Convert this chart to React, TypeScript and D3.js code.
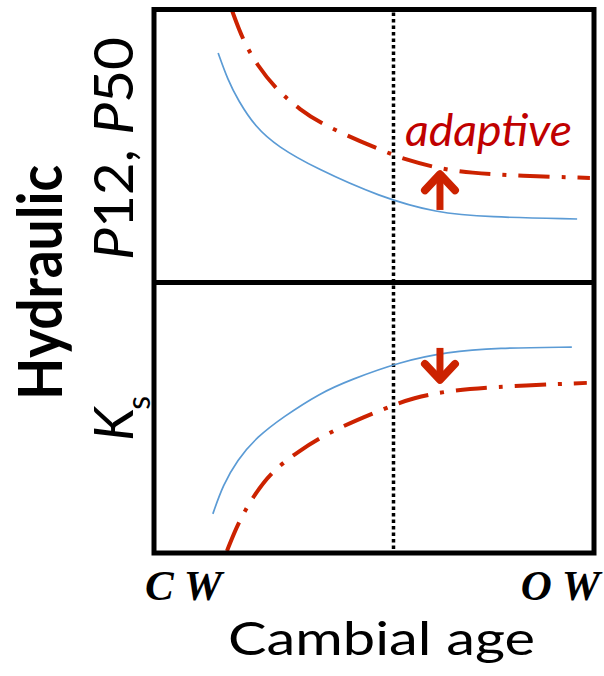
import React, { useEffect, useRef } from 'react';
import * as d3 from 'd3';

// cambial age (0 = CW, 100 = OW) and relative trait values (0-100 per panel)
const blueTopX = [15.0, 17.2, 19.5, 23.4, 28.6, 37.0, 51.7, 64.6, 76.0, 96.4];
const blueTopY = [83.6, 73.7, 66.4, 56.6, 49.3, 41.6, 31.0, 25.2, 23.7, 23.0];
const redTopX = [18.1, 20.6, 23.8, 28.3, 33.6, 38.8, 51.7, 57.8, 64.6, 72.1, 83.4, 99.3];
const redTopY = [99.3, 88.3, 79.2, 70.1, 62.8, 57.3, 48.2, 44.5, 41.6, 39.8, 38.7, 38.0];
const blueBotX = [13.8, 16.1, 19.3, 23.8, 29.7, 38.1, 44.9, 56.2, 66.9, 78.2, 95.2];
const blueBotY = [13.8, 24.5, 33.8, 42.4, 49.8, 58.7, 63.6, 70.3, 74.0, 75.5, 75.8];
const redBotX = [17.0, 19.5, 22.9, 26.8, 32.9, 41.0, 53.5, 59.2, 66.9, 76.6, 98.6];
const redBotY = [0, 10.4, 20.1, 29.0, 36.8, 45.0, 53.5, 56.9, 59.5, 61.0, 62.5];

const matureAge = 54.6;
const arrowX = 65.3;
const upArrow = [26.3, 40.4];
const downArrow = [75.5, 62.5];
const xTicks = ['C W', 'O W'];

const BLUE = '#5b9bd5';
const RED = '#cc2200';
const TEXT_RED = '#c00000';

const App = () => {
  const svgRef = useRef(null);

  useEffect(() => {
    const svg = d3.select(svgRef.current);
    svg.selectAll('*').remove();

    const left = 154, right = 594, top = 9.5, mid = 282.5, bottom = 553;
    const x = d3.scaleLinear().domain([0, 100]).range([152, 593]);
    const yTop = d3.scaleLinear().domain([0, 100]).range([282, 8]);
    const yBot = d3.scaleLinear().domain([0, 100]).range([551, 282]);

    svg.append('defs').append('clipPath').attr('id', 'plotClip')
      .append('rect').attr('x', left).attr('y', top).attr('width', right - left).attr('height', bottom - top);

    const g = svg.append('g').attr('clip-path', 'url(#plotClip)');

    const line = (xs, ys, yScale) =>
      d3.line().curve(d3.curveBasis)
        .x(d => x(d[0])).y(d => yScale(d[1]))(xs.map((v, i) => [v, ys[i]]));

    // dotted mature-wood line
    const mx = Math.round(x(matureAge)) + 0.5;
    g.append('line')
      .attr('x1', mx).attr('x2', mx)
      .attr('y1', top + 3).attr('y2', bottom)
      .attr('stroke', '#000').attr('stroke-width', 3.5).attr('stroke-dasharray', '3.5 3');

    g.append('path').attr('d', line(blueTopX, blueTopY, yTop))
      .attr('fill', 'none').attr('stroke', BLUE).attr('stroke-width', 1.7);
    g.append('path').attr('d', line(redTopX, redTopY, yTop))
      .attr('fill', 'none').attr('stroke', RED).attr('stroke-width', 4)
      .attr('stroke-dasharray', '31 12 4 12');
    g.append('path').attr('d', line(blueBotX, blueBotY, yBot))
      .attr('fill', 'none').attr('stroke', BLUE).attr('stroke-width', 1.7);
    g.append('path').attr('d', line(redBotX, redBotY, yBot))
      .attr('fill', 'none').attr('stroke', RED).attr('stroke-width', 4)
      .attr('stroke-dasharray', '31 12 4 12');

    // arrows
    const drawArrow = (x0, y0, y1) => {
      const dir = y1 < y0 ? 1 : -1;
      svg.append('line').attr('x1', x0).attr('x2', x0).attr('y1', y0).attr('y2', y1 + dir * 4)
        .attr('stroke', RED).attr('stroke-width', 7);
      svg.append('path')
        .attr('d', `M${x0 - 15},${y1 + dir * 19} L${x0},${y1 + dir * 3} L${x0 + 15},${y1 + dir * 19}`)
        .attr('fill', 'none').attr('stroke', RED).attr('stroke-width', 8)
        .attr('stroke-linecap', 'round').attr('stroke-linejoin', 'round');
    };
    drawArrow(x(arrowX), yTop(upArrow[0]), yTop(upArrow[1]));
    drawArrow(x(arrowX), yBot(downArrow[0]), yBot(downArrow[1]));

    svg.append('text').attr('x', 405).attr('y', 146)
      .attr('font-family', 'Lato, sans-serif').attr('font-style', 'italic')
      .attr('font-size', 45).attr('fill', TEXT_RED)
      .attr('textLength', 167).attr('lengthAdjust', 'spacingAndGlyphs')
      .text('adaptive');

    // frame
    svg.append('rect').attr('x', left).attr('y', top).attr('width', right - left).attr('height', bottom - top)
      .attr('fill', 'none').attr('stroke', '#000').attr('stroke-width', 5);
    svg.append('line').attr('x1', left).attr('x2', right).attr('y1', mid).attr('y2', mid)
      .attr('stroke', '#000').attr('stroke-width', 5);

    // x tick labels
    svg.append('text').attr('x', 145).attr('y', 600)
      .attr('font-family', '"Liberation Serif", serif').attr('font-weight', 'bold').attr('font-style', 'italic')
      .attr('font-size', 43).text(xTicks[0]);
    svg.append('text').attr('x', 600).attr('y', 600).attr('text-anchor', 'end')
      .attr('font-family', '"Liberation Serif", serif').attr('font-weight', 'bold').attr('font-style', 'italic')
      .attr('font-size', 43).text(xTicks[1]);

    svg.append('text').attr('x', 228).attr('y', 655)
      .attr('font-family', 'Lato, sans-serif').attr('font-size', 47)
      .attr('textLength', 307).attr('lengthAdjust', 'spacingAndGlyphs')
      .text('Cambial age');

    // y labels (rotated)
    svg.append('text').attr('transform', 'translate(62,400) rotate(-90)')
      .attr('font-family', 'Lato, sans-serif').attr('font-weight', 'bold').attr('font-size', 62)
      .attr('textLength', 235).attr('lengthAdjust', 'spacingAndGlyphs')
      .text('Hydraulic');

    const p = svg.append('text').attr('transform', 'translate(133,260) rotate(-90)')
      .attr('font-family', 'Lato, sans-serif').attr('font-size', 54)
      .attr('textLength', 223).attr('lengthAdjust', 'spacingAndGlyphs');
    p.append('tspan').attr('font-style', 'italic').text('P');
    p.append('tspan').text('12, ');
    p.append('tspan').attr('font-style', 'italic').text('P');
    p.append('tspan').text('50');

    const k = svg.append('text').attr('transform', 'translate(133,441) rotate(-90)')
      .attr('font-family', 'Lato, sans-serif').attr('font-size', 54);
    k.append('tspan').attr('font-style', 'italic').text('K');
    k.append('tspan').attr('font-size', 32).attr('dy', 17).attr('dx', -2).text('s');
  }, []);

  return (
    <svg ref={svgRef} width={604} height={676} style={{ position: 'absolute', left: 0, top: 0 }} />
  );
};

export default App;
